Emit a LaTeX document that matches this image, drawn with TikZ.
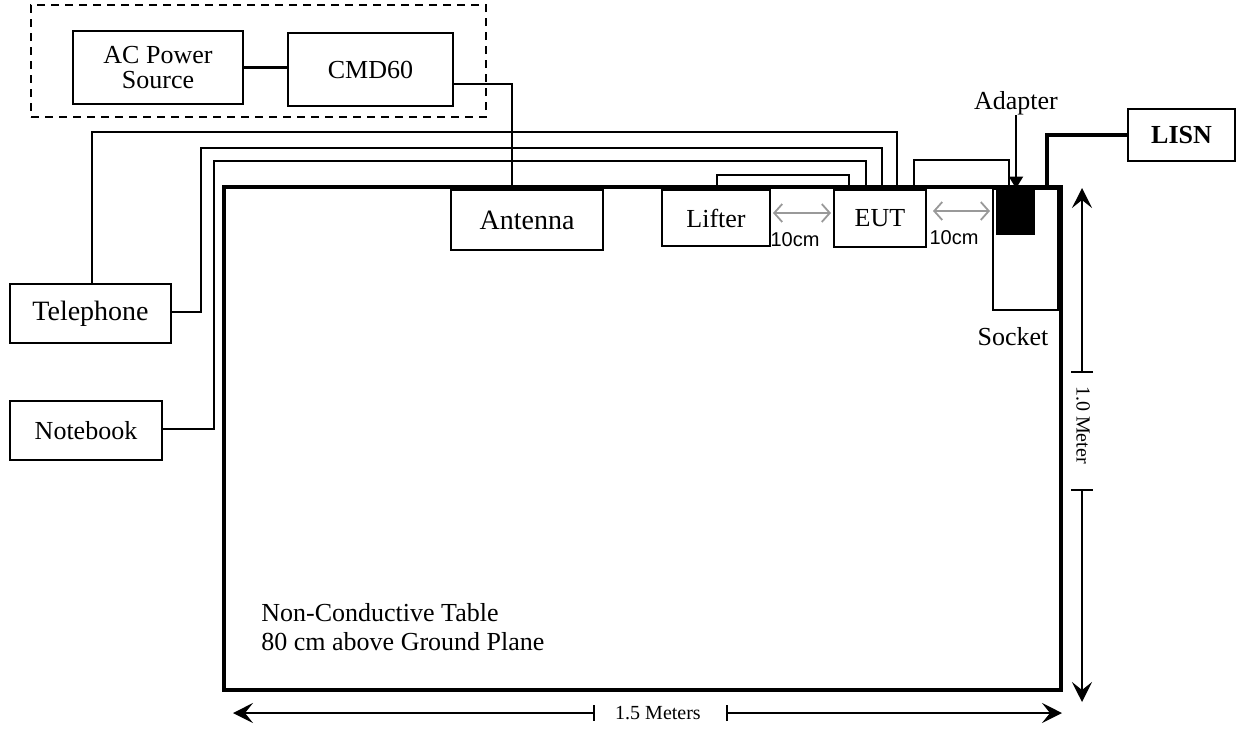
\documentclass[tikz,border=0pt]{standalone}
\usepackage{fontspec}
\setmainfont{Liberation Serif}
\newfontfamily\arialf{Liberation Sans}
\usetikzlibrary{arrows.meta,calc}
\tikzset{dimtip/.tip={Stealth[length=10pt,width=10pt,inset=4pt]}}
\begin{document}
\begin{tikzpicture}[x=0.5pt,y=-0.5pt,
  box/.style={draw,line width=1pt,inner sep=0pt,font=\fontsize{13}{12.5}\selectfont,align=center},
  wire/.style={line width=1pt},
  heavy/.style={line width=1.7pt},
  dimline/.style={line width=0.8pt},
  gaparrow/.style={draw=black!40,line width=0.9pt,{Straight Barb[length=4pt,width=9pt]}-{Straight Barb[length=4pt,width=9pt]}},
  lbl/.style={font=\fontsize{13}{14.5}\selectfont,inner sep=0pt},
  small/.style={font=\arialf\fontsize{10}{10}\selectfont,inner sep=0pt},
  dimlbl/.style={font=\fontsize{10}{10}\selectfont,inner sep=0pt}]
\useasboundingbox (0,0) rectangle (1237,729);
% group outline
\node[draw,dashed,dash pattern=on 4pt off 3pt,line width=1pt,minimum width=227.5pt,minimum height=56pt,inner sep=0pt] (grp) at (258.5,61) {};
\node[box,minimum width=85pt,minimum height=36.5pt] (ac) at (158,67.5) {AC Power\\Source};
\node[box,minimum width=82.5pt,minimum height=36.5pt] (cmd) at (370.5,69.5) {CMD60};
% table
\node[draw,line width=1.8pt,minimum width=418.5pt,minimum height=251.5pt,inner sep=0pt] (table) at (642.5,438.5) {};
\node[lbl,align=left,anchor=west] (tabletxt) at (261,627) {Non-Conductive Table\\80 cm above Ground Plane};
% devices on table
\node[box,minimum width=76pt,minimum height=30pt,font=\fontsize{14}{14}\selectfont] (ant) at (527,220) {Antenna};
\node[box,minimum width=54pt,minimum height=28pt] (lift) at (716,218) {Lifter};
\node[box,minimum width=46pt,minimum height=28.5pt] (eut) at (880,218.5) {EUT};
\node[box,minimum width=32.5pt,minimum height=60.5pt] (sock) at (1025.5,249.5) {};
\node[lbl] (socklbl) at (1013,337) {Socket};
\node[fill=black,draw,line width=0.5pt,minimum width=19pt,minimum height=22.5pt,inner sep=0pt] (adp) at (1015,211.5) {};
\node[lbl] (adplbl) at (1016,103) {Adapter};
\node[box,minimum width=53.5pt,minimum height=26pt,font=\bfseries\fontsize{13}{13}\selectfont] (lisn) at (1181.5,135) {LISN};
% off-table devices
\node[box,minimum width=80.5pt,minimum height=29.5pt,font=\fontsize{14}{14}\selectfont] (tel) at (90.5,313.5) {Telephone};
\node[box,minimum width=76pt,minimum height=29.5pt] (nb) at (86,430.5) {Notebook};
% wires
\draw[heavy] (ac.east) -- (ac.east -| cmd.west);
\draw[wire] ($(cmd.east)+(0,14.5)$) -| ($(ant.north)+(-15,0)$);
\draw[wire] ($(tel.north)+(1.5,0)$) -- ++(0,-151) -| ($(eut.north)+(17,0)$);
\draw[wire] ($(tel.east)+(0,-1.5)$) -| ++(29,-164) -| ($(eut.north)+(2,0)$);
\draw[wire] ($(nb.east)+(0,-1.5)$) -| ++(51,-268) -| ($(eut.north)+(-14,0)$);
\draw[wire] ($(lift.north)+(1,0)$) -- ++(0,-14) -| ($(eut.north)+(-31,0)$);
\draw[wire] ($(eut.north)+(34,0)$) -- ++(0,-29) -| ($(adp.north)+(-6,0)$);
\draw[heavy] ($(sock.north)+(21.5,0)$) |- (lisn.west);
\draw[wire,-{Triangle[length=6pt,width=7pt]}] (adplbl.south) -- (adplbl.south |- adp.north);
% 10 cm gaps
\draw[gaparrow] ($(lift.east)+(2,-5)$) -- ($(eut.west)+(-2,-5.5)$);
\node[small] (g1) at (795,240) {10cm};
\draw[gaparrow] ($(eut.east)+(6,-7.5)$) -- ($(sock.west)+(-2,-38.5)$);
\node[small] (g2) at (954,238) {10cm};
% horizontal dimension
\node[dimlbl] (dimh) at (658,713) {1.5 Meters};
\coordinate (hL) at (233,713);
\coordinate (hT1) at (595,713);
\coordinate (hT2) at (726,713);
\coordinate (hR) at (1062,713);
\draw[dimline,{Bar[width=8pt]}-dimtip] (hT1) -- (hL);
\draw[dimline,{Bar[width=8pt]}-dimtip] (hT2) -- (hR);
% vertical dimension
\node[dimlbl,rotate=-90] (dimv) at (1083,425) {1.0 Meter};
\coordinate (vT) at (1082,188);
\coordinate (vT1) at (1082,373);
\coordinate (vT2) at (1082,489);
\coordinate (vB) at (1082,702);
\draw[dimline,{Bar[width=11pt]}-dimtip] (vT1) -- (vT);
\draw[dimline,{Bar[width=11pt]}-dimtip] (vT2) -- (vB);
\end{tikzpicture}
\end{document}
